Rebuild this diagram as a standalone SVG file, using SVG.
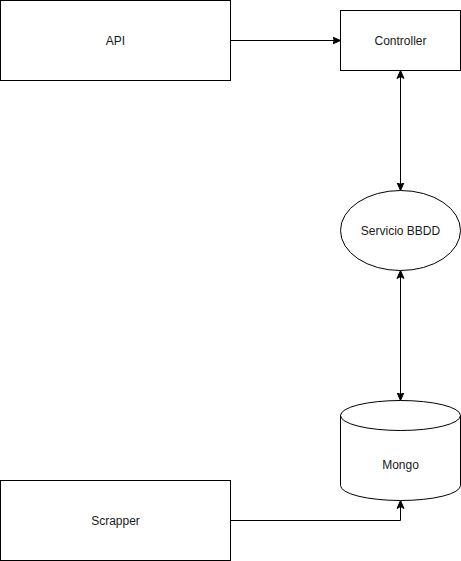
<svg xmlns="http://www.w3.org/2000/svg" width="461" height="561" viewBox="0 0 461 561">
<style>
.n{fill:#fff;stroke:#000;stroke-width:1}
.e{fill:none;stroke:#000;stroke-width:1}
.t{font-family:"Liberation Sans",Arial,sans-serif;font-size:12px;fill:#1a1a1a;text-anchor:middle;dominant-baseline:central}
</style>
<defs>
<marker id="a" markerUnits="userSpaceOnUse" markerWidth="10" markerHeight="10" refX="8" refY="4" orient="auto-start-reverse" viewBox="0 0 10 8">
<path d="M0,0.5 L8,4 L0,7.5 L2,4 Z" fill="#000" stroke="#000" stroke-width="1"/>
</marker>
</defs>
<rect width="461" height="561" fill="#fff"/>
<g id="connectors">
<path class="e" d="M230.5,40.5 L340.5,40.5" marker-end="url(#a)"/>
<path class="e" d="M400.5,70.5 L400.5,190.5" marker-start="url(#a)" marker-end="url(#a)"/>
<path class="e" d="M400.5,270.5 L400.5,400.5" marker-start="url(#a)" marker-end="url(#a)"/>
<path class="e" d="M230.5,520.5 L400.5,520.5 L400.5,500.5" marker-end="url(#a)"/>
</g>
<g id="api">
<rect class="n" x="0.5" y="0.5" width="230" height="80"/>
<text class="t" x="115.5" y="40.5">API</text>
</g>
<g id="controller">
<rect class="n" x="340.5" y="10.5" width="120" height="60"/>
<text class="t" x="400.5" y="40.5">Controller</text>
</g>
<g id="servicio">
<ellipse class="n" cx="400.5" cy="230.5" rx="60" ry="40"/>
<text class="t" x="400.5" y="230.5">Servicio BBDD</text>
</g>
<g id="mongo">
<path class="n" d="M340.5,415.5 A60,15 0 0 1 460.5,415.5 L460.5,485.5 A60,15 0 0 1 340.5,485.5 Z"/>
<path class="e" d="M340.5,415.5 A60,15 0 0 0 460.5,415.5"/>
<text class="t" x="400.5" y="464.5">Mongo</text>
</g>
<g id="scrapper">
<rect class="n" x="0.5" y="480.5" width="230" height="80"/>
<text class="t" x="115.5" y="520.5">Scrapper</text>
</g>
</svg>
